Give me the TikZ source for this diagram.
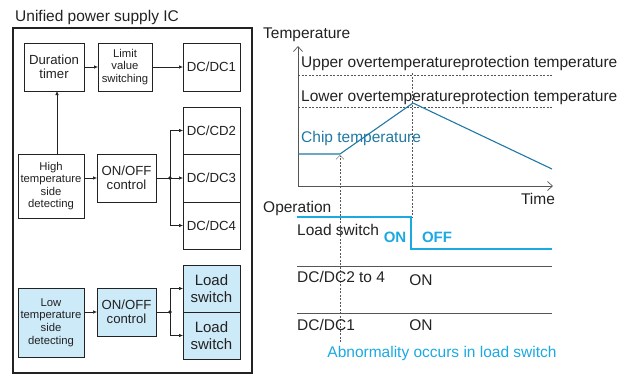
\documentclass[tikz,border=0pt]{standalone}
\usepackage{fontspec}
\setmainfont{Liberation Sans}
\usetikzlibrary{arrows.meta}
\definecolor{boxfill}{HTML}{CDEAF8}
\definecolor{chipcol}{HTML}{1F79A3}
\definecolor{lscol}{HTML}{1BA9E2}
\definecolor{inkcol}{HTML}{222222}
\definecolor{axiscol}{HTML}{555555}
\begin{document}
\begin{tikzpicture}[x=1pt,y=-1pt,
  blk/.style={draw=inkcol, line width=0.6pt, fill=white, inner sep=1pt,
    outer sep=0pt, align=center, text=inkcol},
  bluebox/.style={blk, fill=boxfill},
  fmid/.style={font=\fontsize{13.2}{14.3}\selectfont},
  fsmall/.style={font=\fontsize{11.3}{12.6}\selectfont},
  flarge/.style={font=\fontsize{15}{16.7}\selectfont},
  fchart/.style={font=\fontsize{15.5}{18}\selectfont, text=inkcol, inner sep=0pt},
  arr/.style={draw=inkcol, line width=0.6pt, -{Latex[length=4pt,width=3.5pt]}},
  wire/.style={draw=inkcol, line width=0.6pt},
  jdot/.style={circle, fill=inkcol, inner sep=0pt, minimum size=3.6pt},
  axisline/.style={draw=axiscol, line width=0.7pt,
    {Straight Barb[length=5pt,width=9pt]}-{Straight Barb[length=5pt,width=9pt]}},
  guide/.style={draw=axiscol, line width=0.5pt, dash pattern=on 2pt off 1.5pt},
  rail/.style={draw=axiscol, line width=0.8pt}]
\useasboundingbox (0,0) rectangle (632,376);

% ---------- block diagram ----------
\node[anchor=west, font=\fontsize{15.5}{18}\selectfont, text=inkcol, inner sep=0pt]
  (title) at (15,17) {Unified power supply IC};
\draw[draw=inkcol, line width=1.8pt] (13,28) rectangle (252,373);

\node[blk, fmid, minimum width=60pt, minimum height=48pt] (dur) at (54,67) {Duration\\timer};
\node[blk, fsmall, minimum width=54pt, minimum height=48pt] (lim) at (125,67) {Limit\\value\\switching};
\node[blk, fmid, minimum width=57pt, minimum height=48pt] (dc1) at (211.5,67) {DC/DC1};
\node[blk, fmid, minimum width=57pt, minimum height=47pt] (dc2) at (211.5,130.5) {DC/CD2};
\node[blk, fmid, minimum width=57pt, minimum height=48pt] (dc3) at (211.5,178) {DC/DC3};
\node[blk, fmid, minimum width=57pt, minimum height=47pt] (dc4) at (211.5,225.5) {DC/DC4};
\node[blk, fsmall, minimum width=66pt, minimum height=64pt] (high) at (51,186)
  {High\\temperature\\side\\detecting};
\node[blk, fmid, minimum width=59pt, minimum height=48pt] (onoff) at (126.5,178) {ON/OFF\\control};

\node[bluebox, fsmall, minimum width=66pt, minimum height=69pt] (low) at (51,322.5)
  {Low\\temperature\\side\\detecting};
\node[bluebox, fmid, minimum width=59pt, minimum height=48pt] (onoff2) at (126.5,312) {ON/OFF\\control};
\node[bluebox, flarge, minimum width=57pt, minimum height=47pt] (ls1) at (211.5,288.5) {Load\\switch};
\node[bluebox, flarge, minimum width=57pt, minimum height=47pt] (ls2) at (211.5,335.5) {Load\\switch};

\coordinate (tx) at (57,0);
\coordinate (j1) at (170,178);
\coordinate (j2) at (170,312);

\draw[arr] (dur.east) -- (lim.west);
\draw[arr] (lim.east) -- (dc1.west);
\draw[arr] (high.north -| tx) -- (dur.south -| tx);
\draw[arr] (high.east |- onoff.west) -- (onoff.west);
\draw[wire] (onoff.east) -- (j1);
\draw[wire] (j1 |- dc2.west) -- (j1 |- dc4.west);
\draw[arr] (j1) -- (dc3.west);
\draw[arr] (j1 |- dc2.west) -- (dc2.west);
\draw[arr] (j1 |- dc4.west) -- (dc4.west);
\node[jdot] (d1) at (j1) {};

\draw[arr] (low.east |- onoff2.west) -- (onoff2.west);
\draw[wire] (onoff2.east) -- (j2);
\draw[wire] (j2 |- ls1.west) -- (j2 |- ls2.west);
\draw[arr] (j2 |- ls1.west) -- (ls1.west);
\draw[arr] (j2 |- ls2.west) -- (ls2.west);
\node[jdot] (d2) at (j2) {};

% ---------- temperature chart ----------
\coordinate (O) at (298,186);
\coordinate (ytop) at (298,46);
\coordinate (xend) at (553,186);
\draw[axisline] (ytop) -- (O) -- (xend);
\node[fchart, anchor=west] (tlab) at (263,35) {Temperature};
\node[fchart] (timelab) at (538,199) {Time};

\coordinate (up0) at (298,75);  \coordinate (up1) at (552,75);
\coordinate (lo0) at (298,107); \coordinate (lo1) at (552,107);
\draw[guide] (up0) -- (up1);
\draw[guide] (lo0) -- (lo1);
\node[fchart, anchor=west] (uplab) at (301,63) {Upper overtemperatureprotection temperature};
\node[fchart, anchor=west] (lolab) at (301,97) {Lower overtemperatureprotection temperature};

\coordinate (c0) at (298,154);
\coordinate (c1) at (340,154);
\coordinate (c2) at (413,103);
\coordinate (c3) at (552,169);
\draw[draw=chipcol, line width=1.1pt, line join=round] (c0) -- (c1) -- (c2) -- (c3);
\node[fchart, anchor=west, text=chipcol] (chiplab) at (301,138) {Chip temperature};

% event markers
\coordinate (e1top) at (340,155);
\coordinate (e1bot) at (340,342);
\coordinate (e2top) at (412,73);
\coordinate (e2bot) at (412,217);
\draw[guide, -{Straight Barb[length=4pt,width=8pt]}] (e1bot) -- (e1top);
\draw[guide] (e2top) -- (e2bot);

% ---------- operation chart ----------
\node[fchart, anchor=west] (oplab) at (263,208) {Operation};

\coordinate (l0) at (297,217);
\coordinate (l1) at (411,217);
\coordinate (l2) at (411,249);
\coordinate (l3) at (552,249);
\draw[draw=lscol, line width=1.2pt] (l0) -- (l1) -- (l2) -- (l3);
\node[fchart, anchor=west] (lslab) at (297,230) {Load switch};
\node[fchart, text=lscol, font=\bfseries\fontsize{15}{18}\selectfont] (lson) at (395,237) {ON};
\node[fchart, text=lscol, font=\bfseries\fontsize{15}{18}\selectfont] (lsoff) at (437,237) {OFF};

\coordinate (r10) at (297,266); \coordinate (r11) at (552,266);
\coordinate (r20) at (297,313); \coordinate (r21) at (552,313);
\draw[rail] (r10) -- (r11);
\draw[rail] (r20) -- (r21);
\node[fchart, anchor=west] (dclab) at (297,277) {DC/DC2 to 4};
\node[fchart] (dcon) at (421,280) {ON};
\node[fchart, anchor=west] (dc1lab) at (297,325) {DC/DC1};
\node[fchart] (dc1on) at (421,325) {ON};

\node[fchart, text=lscol] (abn) at (442,353) {Abnormality occurs in load switch};
\end{tikzpicture}
\end{document}
